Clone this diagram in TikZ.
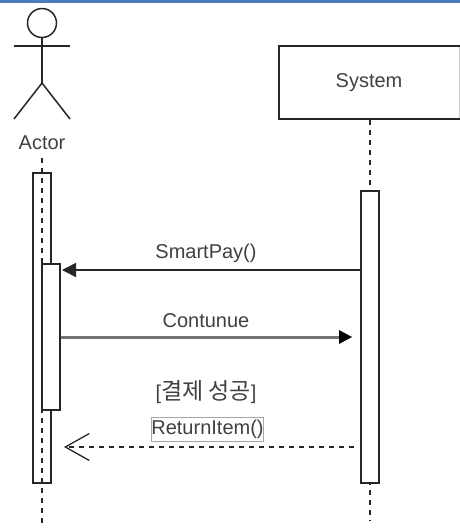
\documentclass[tikz,border=0pt]{standalone}
\usepackage{fontspec}
\usepackage{xcolor}
\usepackage{tikz}
\usetikzlibrary{arrows.meta}
\setmainfont{Liberation Sans}
\newfontfamily\krfont{Noto Sans CJK KR}
\definecolor{top-blue}{HTML}{4A7EBB}
\definecolor{label-gray}{HTML}{404040}
\tikzset{
    activation-bar/.style = {draw=black!85, fill=white, line width=1.4pt, rectangle, minimum width=18pt, inner sep=0pt},
    object-box/.style = {draw=black!85, fill=white, line width=1.8pt, rectangle, minimum width=182pt, minimum height=73pt, inner sep=0pt},
    msg-label/.style = {inner sep=0pt, text=label-gray, font=\fontsize{20}{24}\selectfont},
    life-line/.style = {draw=black!85, line width=1.4pt, dash pattern=on 5pt off 5pt},
    stick-line/.style = {draw=black!85, line width=1.5pt},
    call-msg/.style = {draw=black!85, line width=1.5pt, -{Triangle[length=14pt,width=14pt]}},
    continue-line/.style = {draw=black!55, line width=3pt},
    continue-tip/.style = {draw=none, fill=black},
    return-msg/.style = {draw=black!85, line width=1.3pt, dash pattern=on 5pt off 5pt, -{Straight Barb[length=24pt,width=27pt]}},
}

\begin{document}
\begin{tikzpicture}[x=1pt,y=-1pt]
\useasboundingbox (0,0) rectangle (460,531);
\fill[top-blue] (0,0) rectangle (460,3);

% actor
\node [circle, stick-line, minimum size=29pt, inner sep=0pt] (head) at (42,23) {};
\coordinate (hip) at (42,83);
\coordinate (arm-l) at (14,46);
\coordinate (arm-r) at (70,46);
\coordinate (leg-l) at (14,119);
\coordinate (leg-r) at (70,119);
\draw[stick-line] (head.south) -- (hip);
\draw[stick-line] (arm-l) -- (arm-r);
\draw[stick-line] (leg-l) -- (hip) -- (leg-r);
\node [msg-label] (actor) at (42,143) {Actor};

% system
\node [object-box] (system) at (370,82.5) {};
\node [msg-label] (system-label) at (369,83) {System};
\draw[draw=black!20, line width=1pt] (459,47) -- (459,118);
\coordinate (system-end) at (370,520);
\draw[life-line] (system.south) -- (system-end);

% activations
\node [activation-bar, minimum height=310pt] (actor-bar) at (42,328) {};
\coordinate (actor-start) at (42,158);
\coordinate (actor-end) at (42,527);
\draw[life-line] (actor-start) -- (actor-end);
\node [activation-bar, minimum height=146pt] (inner-bar) at (51,337) {};
\node [activation-bar, minimum height=292pt] (system-bar) at (370,337) {};

% messages
\coordinate (pay-start) at (system-bar.west |- 0,270);
\coordinate (pay-end) at (62,270);
\draw[call-msg] (pay-start) -- (pay-end);
\node [msg-label] (pay-label) at (206,253) {SmartPay()};

\coordinate (go-start) at (inner-bar.east |- 0,337);
\coordinate (go-end) at (342,337);
\draw[continue-line] (go-start) -- (go-end);
\fill[continue-tip] (339,330) -- (352,337) -- (339,344) -- cycle;
\node [msg-label] (go-label) at (206,321) {Contunue};

\node [msg-label] (guard-label) at (206,392) {[{\krfont\fontsize{23}{26}\selectfont 결제 성공}]};
\node [msg-label, draw=black!35, line width=0.8pt, minimum width=111pt, minimum height=24pt] (return-label) at (207.5,429) {ReturnItem()};

\coordinate (return-start) at (354,447);
\coordinate (return-end) at (64,447);
\draw[return-msg] (return-start) -- (return-end);
\end{tikzpicture}
\end{document}
